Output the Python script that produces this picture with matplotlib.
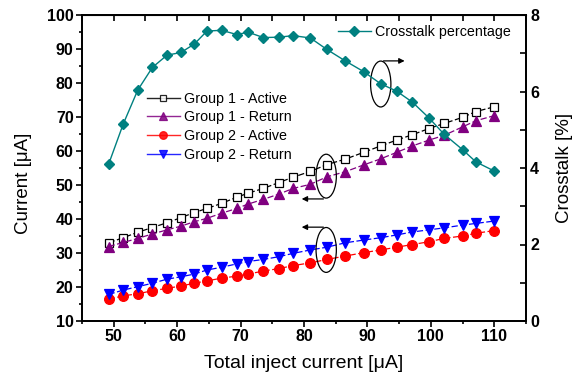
import matplotlib
matplotlib.use('Agg')
import matplotlib.pyplot as plt
from matplotlib.patches import Ellipse
from matplotlib.lines import Line2D
from matplotlib.ticker import MultipleLocator

plt.rcParams['font.family'] = ['Liberation Sans', 'DejaVu Sans']

# ===== DATA =====
inject = [49.2, 51.5, 53.8, 56.1, 58.4, 60.6, 62.7, 64.7, 67.0, 69.4, 71.2, 73.6, 76.0,
          78.3, 81.0, 83.6, 86.5, 89.4, 92.1, 94.6, 97.1, 99.7, 102.1, 105.0, 107.1, 110.0]

g1_active = [33.0, 34.5, 36.1, 37.5, 38.9, 40.4, 41.9, 43.1, 44.6, 46.4, 47.6, 49.0, 50.7,
             52.3, 54.0, 56.0, 57.6, 59.6, 61.5, 63.2, 64.8, 66.6, 68.1, 69.9, 71.6, 73.0]
g1_return = [31.9, 33.1, 34.3, 35.6, 36.8, 37.9, 39.2, 40.2, 41.7, 43.1, 44.4, 45.8, 47.3,
             49.0, 50.2, 52.4, 53.9, 55.9, 57.7, 59.6, 61.5, 63.2, 64.6, 67.1, 68.9, 70.4]
g2_active = [16.4, 17.4, 18.0, 18.9, 19.6, 20.3, 21.1, 21.8, 22.6, 23.2, 23.8, 24.7, 25.4,
             26.3, 27.1, 28.1, 29.1, 30.1, 30.9, 31.7, 32.5, 33.3, 34.3, 35.0, 35.8, 36.6]
g2_return = [17.8, 19.1, 20.1, 21.1, 22.3, 23.0, 23.8, 25.0, 25.8, 26.8, 27.5, 28.1, 28.9,
             29.9, 30.9, 31.7, 33.0, 33.8, 34.5, 35.3, 36.2, 36.8, 37.4, 38.2, 38.7, 39.4]
crosstalk = [4.10, 5.15, 6.04, 6.63, 6.95, 7.02, 7.24, 7.58, 7.60, 7.49, 7.55, 7.41, 7.42,
             7.46, 7.40, 7.10, 6.80, 6.52, 6.20, 6.01, 5.72, 5.31, 4.88, 4.48, 4.16, 3.92]

GROUP_LABELS = ['Group 1 - Active', 'Group 1 - Return', 'Group 2 - Active', 'Group 2 - Return']
GROUP_DATA = [g1_active, g1_return, g2_active, g2_return]
GROUP_COLORS = ['black', '#800080', '#ff0000', '#0000ff']
GROUP_MARKERS = ['s', '^', 'o', 'v']

fig = plt.figure(figsize=(5.74, 3.76), dpi=100)
ax = fig.add_axes([82/574, 55/376, 444/574, 306/376])
ax2 = ax.twinx()

handles = []
for vals, c, m, lab in zip(GROUP_DATA, GROUP_COLORS, GROUP_MARKERS, GROUP_LABELS):
    mfc = 'white' if m == 's' else c
    ms = 6 if m == 's' else 7
    ax.plot(inject, vals, marker=m, ls='--', dashes=(5, 2), color=c, mfc=mfc, mec=c,
            ms=ms, lw=0.9, mew=0.9)
    handles.append(Line2D([], [], marker=m, color=c, mfc=mfc, mec=c, lw=1.0, alpha=0.85,
                          ms=ms - 1.5, mew=0.9, label=lab))
ax2.plot(inject, crosstalk, 'D-', color='#008080', ms=5, lw=1.0)
ct_handle = Line2D([], [], marker='D', color='#008080', ms=5, lw=1.0, label='Crosstalk percentage')

ax.set_xlim(45, 115)
ax.set_ylim(10, 100)
ax2.set_ylim(0, 8)
ax.xaxis.set_major_locator(MultipleLocator(10))
ax.xaxis.set_minor_locator(MultipleLocator(5))
ax.yaxis.set_major_locator(MultipleLocator(10))
ax.yaxis.set_minor_locator(MultipleLocator(5))
ax2.yaxis.set_major_locator(MultipleLocator(2))
ax2.yaxis.set_minor_locator(MultipleLocator(1))

ax.tick_params(axis='x', which='both', direction='out', top=False)
ax.tick_params(axis='y', which='both', direction='out', right=False)
ax.tick_params(which='major', length=4, width=1.2, labelsize=11.5, pad=2)
ax.tick_params(which='minor', length=2.5, width=1.2)
ax2.tick_params(axis='y', which='both', direction='in', width=1.2)
ax2.tick_params(which='major', length=4, labelsize=11.5, pad=3)
ax2.tick_params(which='minor', length=4)
# top ticks pointing inward
secx = ax.secondary_xaxis('top')
secx.xaxis.set_major_locator(MultipleLocator(10))
secx.xaxis.set_minor_locator(MultipleLocator(5))
secx.tick_params(which='both', direction='in', length=4, width=1.2, labeltop=False)

for a in (ax, ax2):
    for s in a.spines.values():
        s.set_linewidth(1.3)
for t in ax.get_xticklabels() + ax.get_yticklabels() + ax2.get_yticklabels():
    t.set_fontweight('bold')

ax.set_xlabel('Total inject current [μA]', fontsize=14, labelpad=8)
ax.set_ylabel('Current [μA]', fontsize=13.5)
ax.yaxis.set_label_coords(-0.112, 0.45)
ax2.set_ylabel('Crosstalk [%]', fontsize=13.5, labelpad=12)

# ellipses + arrows pointing to the matching axis
for cx, cy, h in [(92.1, 79.7, 13.5), (83.5, 52.6, 12.9), (83.5, 30.9, 13.2)]:
    ax.add_patch(Ellipse((cx, cy), 3.2, h, fill=False, ec='black', lw=0.9, zorder=6))
ax.annotate('', xy=(96.3, 86.5), xytext=(92.1, 86.5),
            arrowprops=dict(arrowstyle='-|>', color='black', lw=0.9, mutation_scale=8))
ax.annotate('', xy=(79.2, 45.9), xytext=(83.5, 45.9),
            arrowprops=dict(arrowstyle='-|>', color='black', lw=0.9, mutation_scale=8))
ax.annotate('', xy=(79.2, 37.6), xytext=(83.5, 37.6),
            arrowprops=dict(arrowstyle='-|>', color='black', lw=0.9, mutation_scale=8))

ax.legend(handles=handles, loc='upper left', bbox_to_anchor=(0.13, 0.772), frameon=False,
          fontsize=10.3, handlelength=2.3, handletextpad=0.3, labelspacing=0.32, borderpad=0)
ax2.legend(handles=[ct_handle], loc='upper right', bbox_to_anchor=(0.982, 0.99), frameon=False,
           fontsize=10.3, handlelength=2.3, handletextpad=0.3, borderpad=0)

fig.savefig('out.png', dpi=100)
